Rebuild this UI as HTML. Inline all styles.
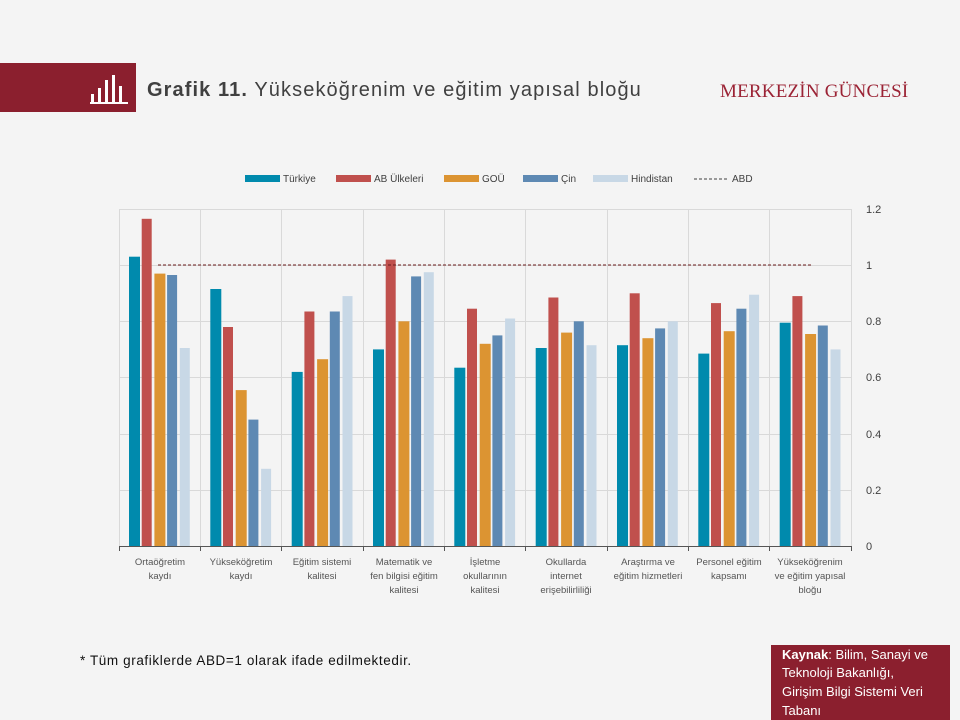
<!DOCTYPE html>
<html><head><meta charset="utf-8"><style>
body{margin:0;background:#f4f4f4;}
svg{display:block;font-family:"Liberation Sans",sans-serif;}
</style></head><body>
<svg width="960" height="720" viewBox="0 0 960 720">
<rect width="960" height="720" fill="#f4f4f4"/>
<rect x="0" y="63" width="136" height="49" fill="#8b1f2e"/>
<g fill="#fff">
<rect x="91" y="94" width="3" height="8"/><rect x="98" y="88" width="3" height="14"/><rect x="105" y="80" width="3" height="22"/><rect x="112" y="75" width="3" height="27"/><rect x="119" y="86" width="3" height="16"/><rect x="90" y="102" width="38" height="2"/>
</g>
<text x="147" y="96" font-size="20" fill="#404040" letter-spacing="1.1"><tspan font-weight="bold">Grafik 11.</tspan> Yükseköğrenim ve eğitim yapısal bloğu</text>
<text x="720" y="97" font-size="19" fill="#9b2335" font-family="Liberation Serif,serif" letter-spacing="0.2">MERKEZİN GÜNCESİ</text>
<!-- legend -->
<g font-size="10" fill="#404040">
<rect x="245" y="175" width="35" height="7" fill="#008aad"/><text x="283" y="182">Türkiye</text>
<rect x="336" y="175" width="35" height="7" fill="#c0504d"/><text x="374" y="182">AB Ülkeleri</text>
<rect x="444" y="175" width="35" height="7" fill="#dc9432"/><text x="482" y="182">GOÜ</text>
<rect x="523" y="175" width="35" height="7" fill="#5e89b3"/><text x="561" y="182">Çin</text>
<rect x="593" y="175" width="35" height="7" fill="#c8d8e6"/><text x="631" y="182">Hindistan</text>
<line x1="694" y1="179" x2="729" y2="179" stroke="#404040" stroke-dasharray="3,2"/><text x="732" y="182">ABD</text>
</g>
<!-- grid -->
<g stroke="#d9d9d9" stroke-width="1">
<line x1="119" y1="209.5" x2="851" y2="209.5"/><line x1="119" y1="265.5" x2="851" y2="265.5"/><line x1="119" y1="321.5" x2="851" y2="321.5"/><line x1="119" y1="377.5" x2="851" y2="377.5"/><line x1="119" y1="434.5" x2="851" y2="434.5"/><line x1="119" y1="490.5" x2="851" y2="490.5"/>
<line x1="119.5" y1="209" x2="119.5" y2="546"/><line x1="200.5" y1="209" x2="200.5" y2="546"/><line x1="281.5" y1="209" x2="281.5" y2="546"/><line x1="363.5" y1="209" x2="363.5" y2="546"/><line x1="444.5" y1="209" x2="444.5" y2="546"/><line x1="525.5" y1="209" x2="525.5" y2="546"/><line x1="607.5" y1="209" x2="607.5" y2="546"/><line x1="688.5" y1="209" x2="688.5" y2="546"/><line x1="769.5" y1="209" x2="769.5" y2="546"/><line x1="851.5" y1="209" x2="851.5" y2="546"/>
</g>
<g>
<rect x="129" y="256.7" width="11" height="289.3" fill="#008aad"/><rect x="141.7" y="218.8" width="10" height="327.2" fill="#c0504d"/><rect x="154.4" y="273.6" width="11" height="272.4" fill="#dc9432"/><rect x="167.1" y="275" width="10" height="271" fill="#5e89b3"/><rect x="179.8" y="348" width="10" height="198" fill="#c8d8e6"/>
<rect x="210.3" y="289" width="11" height="257" fill="#008aad"/><rect x="223" y="327" width="10" height="219" fill="#c0504d"/><rect x="235.7" y="390.1" width="11" height="155.9" fill="#dc9432"/><rect x="248.4" y="419.6" width="10" height="126.4" fill="#5e89b3"/><rect x="261.1" y="468.8" width="10" height="77.2" fill="#c8d8e6"/>
<rect x="291.7" y="371.9" width="11" height="174.1" fill="#008aad"/><rect x="304.4" y="311.5" width="10" height="234.5" fill="#c0504d"/><rect x="317.1" y="359.2" width="11" height="186.8" fill="#dc9432"/><rect x="329.8" y="311.5" width="10" height="234.5" fill="#5e89b3"/><rect x="342.5" y="296.1" width="10" height="249.9" fill="#c8d8e6"/>
<rect x="373" y="349.4" width="11" height="196.6" fill="#008aad"/><rect x="385.7" y="259.6" width="10" height="286.4" fill="#c0504d"/><rect x="398.4" y="321.3" width="11" height="224.7" fill="#dc9432"/><rect x="411.1" y="276.4" width="10" height="269.6" fill="#5e89b3"/><rect x="423.8" y="272.2" width="10" height="273.8" fill="#c8d8e6"/>
<rect x="454.3" y="367.7" width="11" height="178.3" fill="#008aad"/><rect x="467" y="308.7" width="10" height="237.3" fill="#c0504d"/><rect x="479.7" y="343.8" width="11" height="202.2" fill="#dc9432"/><rect x="492.4" y="335.4" width="10" height="210.6" fill="#5e89b3"/><rect x="505.1" y="318.5" width="10" height="227.5" fill="#c8d8e6"/>
<rect x="535.7" y="348" width="11" height="198" fill="#008aad"/><rect x="548.4" y="297.5" width="10" height="248.5" fill="#c0504d"/><rect x="561.1" y="332.6" width="11" height="213.4" fill="#dc9432"/><rect x="573.8" y="321.3" width="10" height="224.7" fill="#5e89b3"/><rect x="586.5" y="345.2" width="10" height="200.8" fill="#c8d8e6"/>
<rect x="617" y="345.2" width="11" height="200.8" fill="#008aad"/><rect x="629.7" y="293.3" width="10" height="252.7" fill="#c0504d"/><rect x="642.4" y="338.2" width="11" height="207.8" fill="#dc9432"/><rect x="655.1" y="328.4" width="10" height="217.6" fill="#5e89b3"/><rect x="667.8" y="321.3" width="10" height="224.7" fill="#c8d8e6"/>
<rect x="698.3" y="353.6" width="11" height="192.4" fill="#008aad"/><rect x="711" y="303.1" width="10" height="242.9" fill="#c0504d"/><rect x="723.7" y="331.2" width="11" height="214.8" fill="#dc9432"/><rect x="736.4" y="308.7" width="10" height="237.3" fill="#5e89b3"/><rect x="749.1" y="294.7" width="10" height="251.3" fill="#c8d8e6"/>
<rect x="779.7" y="322.7" width="11" height="223.3" fill="#008aad"/><rect x="792.4" y="296.1" width="10" height="249.9" fill="#c0504d"/><rect x="805.1" y="334" width="11" height="212" fill="#dc9432"/><rect x="817.8" y="325.5" width="10" height="220.5" fill="#5e89b3"/><rect x="830.5" y="349.4" width="10" height="196.6" fill="#c8d8e6"/>
</g>
<line x1="158" y1="265" x2="811" y2="265" stroke="#6a1a1a" stroke-width="1" stroke-dasharray="3,2"/>
<line x1="119" y1="546.5" x2="851" y2="546.5" stroke="#555" stroke-width="1"/>
<g stroke="#555"><line x1="119.5" y1="546" x2="119.5" y2="551"/><line x1="200.5" y1="546" x2="200.5" y2="551"/><line x1="281.5" y1="546" x2="281.5" y2="551"/><line x1="363.5" y1="546" x2="363.5" y2="551"/><line x1="444.5" y1="546" x2="444.5" y2="551"/><line x1="525.5" y1="546" x2="525.5" y2="551"/><line x1="607.5" y1="546" x2="607.5" y2="551"/><line x1="688.5" y1="546" x2="688.5" y2="551"/><line x1="769.5" y1="546" x2="769.5" y2="551"/><line x1="851.5" y1="546" x2="851.5" y2="551"/></g>
<g font-size="11" fill="#404040">
<text x="866" y="213">1.2</text><text x="866" y="269">1</text><text x="866" y="325">0.8</text><text x="866" y="381">0.6</text><text x="866" y="438">0.4</text><text x="866" y="494">0.2</text><text x="866" y="550">0</text>
</g>
<g font-size="9.5" fill="#555" text-anchor="middle">
<text x="160" y="565">Ortaöğretim</text><text x="160" y="579">kaydı</text>
<text x="241" y="565">Yükseköğretim</text><text x="241" y="579">kaydı</text>
<text x="322" y="565">Eğitim sistemi</text><text x="322" y="579">kalitesi</text>
<text x="404" y="565">Matematik ve</text><text x="404" y="579">fen bilgisi eğitim</text><text x="404" y="593">kalitesi</text>
<text x="485" y="565">İşletme</text><text x="485" y="579">okullarının</text><text x="485" y="593">kalitesi</text>
<text x="566" y="565">Okullarda</text><text x="566" y="579">internet</text><text x="566" y="593">erişebilirliliği</text>
<text x="648" y="565">Araştırma ve</text><text x="648" y="579">eğitim hizmetleri</text>
<text x="729" y="565">Personel eğitim</text><text x="729" y="579">kapsamı</text>
<text x="810" y="565">Yükseköğrenim</text><text x="810" y="579">ve eğitim yapısal</text><text x="810" y="593">bloğu</text>
</g>
<text x="80" y="665" font-size="13.5" fill="#111" letter-spacing="0.6">* Tüm grafiklerde ABD=1 olarak ifade edilmektedir.</text>
<rect x="771" y="645" width="179" height="75" fill="#8b1f2e"/>
<g font-size="13" fill="#fff">
<text x="782" y="659"><tspan font-weight="bold">Kaynak</tspan>: Bilim, Sanayi ve</text>
<text x="782" y="677">Teknoloji Bakanlığı,</text>
<text x="782" y="696">Girişim Bilgi Sistemi Veri</text>
<text x="782" y="715">Tabanı</text>
</g>
</svg>
</body></html>
